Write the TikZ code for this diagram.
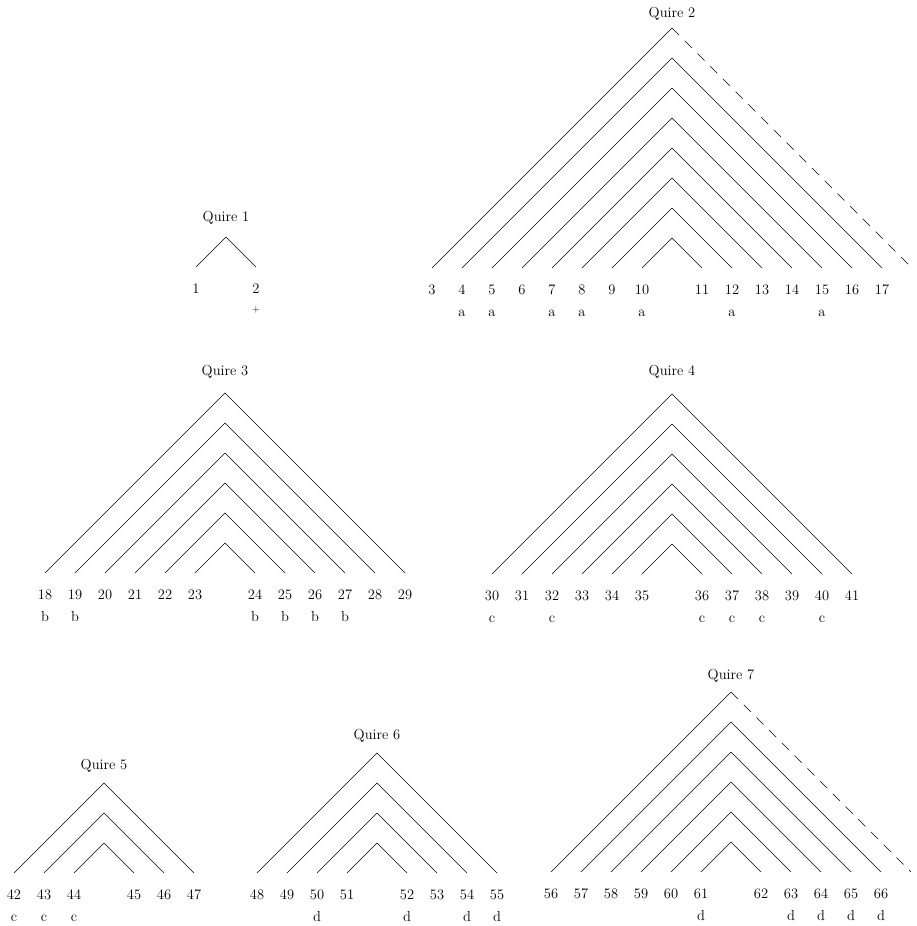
\documentclass[tikz,border=0pt]{standalone}
\begin{document}
\tikzset{
  leaf/.style={line width=0.55pt, black},
  leafdash/.style={leaf, dash pattern=on 10pt off 8pt},
  num/.style={anchor=base, inner sep=0pt, font=\fontsize{14.5}{17}\selectfont},
  ttl/.style={anchor=base, inner sep=0pt, font=\fontsize{14.5}{17}\selectfont},
  plusmark/.style={anchor=base, inner sep=0pt, font=\fontsize{10}{12}\selectfont}
}
% #1 tag, #2 centre x, #3 leg-end y, #4 number of bifolia, #5 first folio,
% #6 outer right leg dashed (1/0), #7 title baseline y, #8 title
\newcommand\quiregram[8]{%
  \node[ttl] (#1t) at (#2,#7) {#8};
  \foreach \k in {1,...,#4}{
    \coordinate (#1L\k) at ({#2-30*\k},#3);
    \coordinate (#1A\k) at (#2,{#3-30*\k});
    \coordinate (#1R\k) at ({#2+30*\k},#3);
    \pgfmathtruncatemacro\lnum{#5+#4-\k}
    \pgfmathtruncatemacro\rnum{#5+#4-1+\k}
    \pgfmathtruncatemacro\isdash{(\k==#4)&&(#6==1)}
    \node[num] (p\lnum) at ({#2-30*\k},{#3+26}) {\lnum};
    \draw[leaf] (#1L\k) -- (#1A\k);
    \ifnum\isdash=1
      \draw[leafdash] (#1A\k) -- (#1R\k);
    \else
      \draw[leaf] (#1A\k) -- (#1R\k);
      \node[num] (p\rnum) at ({#2+30*\k},{#3+26}) {\rnum};
    \fi
  }%
}
\begin{tikzpicture}[x=1pt,y=-1pt]
\useasboundingbox (0,0) rectangle (916,926);

\quiregram{qa}{226}{267}{1}{1}{0}{221}{Quire 1}
\quiregram{qb}{672}{268}{8}{3}{1}{17}{Quire 2}
\quiregram{qc}{225}{573}{6}{18}{0}{375}{Quire 3}
\quiregram{qd}{672}{574}{6}{30}{0}{375}{Quire 4}
\quiregram{qe}{104}{873}{3}{42}{0}{769}{Quire 5}
\quiregram{qf}{377}{873}{4}{48}{0}{739}{Quire 6}
\quiregram{qg}{731}{872}{6}{56}{1}{679}{Quire 7}

\node[plusmark] (plus) at ([yshift=-19pt]p2.base) {+};
\foreach \m in {4,5,7,8,10,12,15}
  \node[num] (la\m) at ([yshift=-22pt]p\m.base) {a};
\foreach \m in {18,19,24,25,26,27}
  \node[num] (lb\m) at ([yshift=-22pt]p\m.base) {b};
\foreach \m in {30,32,36,37,38,40,42,43,44}
  \node[num] (lc\m) at ([yshift=-22pt]p\m.base) {c};
\foreach \m in {50,52,54,55,61,63,64,65,66}
  \node[num] (ld\m) at ([yshift=-22pt]p\m.base) {d};
\end{tikzpicture}
\end{document}
